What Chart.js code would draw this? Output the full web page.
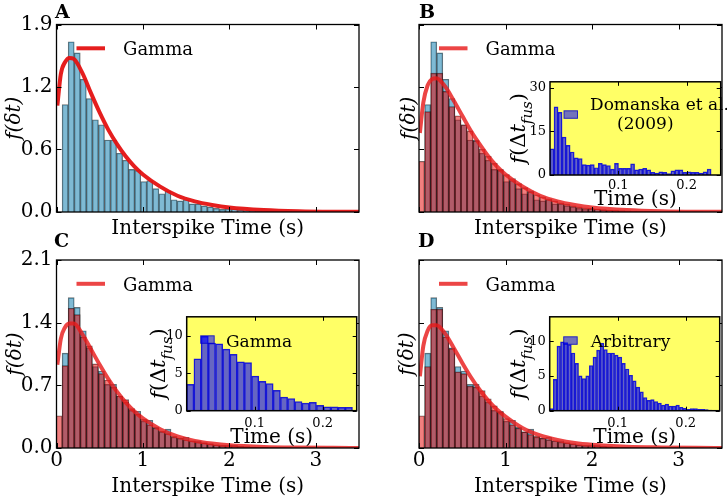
<!DOCTYPE html>
<html>
<head>
<meta charset="utf-8">
<script src="https://cdn.jsdelivr.net/npm/chart.js@4.4.0/dist/chart.umd.min.js"></script>
<style>
  body { margin: 0; background: #fff; }
  #fig { position: relative; width: 727px; height: 500px; overflow: hidden; }
  #fig canvas { position: absolute; }
</style>
</head>
<body>
<div id="fig">
  <canvas id="mainA" width="364" height="250" style="left:0;top:0"></canvas>
  <canvas id="mainB" width="363" height="250" style="left:364px;top:0"></canvas>
  <canvas id="mainC" width="364" height="275" style="left:0;top:225px"></canvas>
  <canvas id="mainD" width="363" height="275" style="left:364px;top:225px"></canvas>
  <canvas id="insetB" width="227" height="145" style="left:500px;top:70px"></canvas>
  <canvas id="insetC" width="234" height="145" style="left:130px;top:305px"></canvas>
  <canvas id="insetD" width="232" height="145" style="left:495px;top:305px"></canvas>
</div>
<script>
/* ---------- data ---------- */
// interspike-time histograms (bin width in s, left edge of first bin)
const binWidth = 0.07;
const expBinStart = 0.065;
const modelBinStart = -0.005;

const expISI = [1.06, 1.68, 1.57, 1.31, 1.12, 0.91, 0.86, 0.71, 0.71, 0.58,
  0.51, 0.42, 0.41, 0.30, 0.31, 0.23, 0.18, 0.21, 0.12, 0.11,
  0.12, 0.08, 0.08, 0.06, 0.05, 0.035, 0.026, 0.033, 0.03, 0.02,
  0.015, 0.01, 0.008, 0.01, 0.006, 0.004, 0.004, 0.006, 0.003, 0.002,
  0.003, 0.002, 0.001, 0.002, 0.001, 0.001, 0, 0.001, 0, 0];

const modelISI_B = [0.50, 0.99, 1.37, 1.37, 1.19, 1.04, 0.95, 0.86, 0.80, 0.70,
  0.62, 0.55, 0.48, 0.42, 0.37, 0.33, 0.28, 0.24, 0.20, 0.17,
  0.15, 0.13, 0.11, 0.09, 0.075, 0.06, 0.05, 0.04, 0.035, 0.03,
  0.025, 0.02, 0.016, 0.013, 0.011, 0.009, 0.008, 0.006, 0.005, 0.004,
  0.004, 0.003, 0.003, 0.002, 0.002, 0.002, 0.001, 0.001, 0.001, 0.001, 0.001];

const modelISI_C = [0.36, 0.92, 1.56, 1.49, 1.24, 1.14, 0.94, 0.83, 0.76, 0.68,
  0.58, 0.54, 0.44, 0.38, 0.32, 0.26, 0.22, 0.19, 0.16, 0.13,
  0.11, 0.09, 0.08, 0.065, 0.055, 0.045, 0.035, 0.03, 0.025, 0.02,
  0.016, 0.013, 0.01, 0.008, 0.007, 0.006, 0.005, 0.004, 0.003, 0.003,
  0.002, 0.002, 0.002, 0.001, 0.001, 0.001, 0.001, 0.001, 0.001, 0.001, 0.001];

const modelISI_D = [0.36, 0.91, 1.55, 1.55, 1.24, 1.11, 0.85, 0.83, 0.69, 0.68,
  0.64, 0.55, 0.47, 0.40, 0.33, 0.26, 0.22, 0.18, 0.15, 0.13,
  0.11, 0.09, 0.08, 0.065, 0.055, 0.045, 0.035, 0.03, 0.025, 0.02,
  0.016, 0.013, 0.01, 0.008, 0.007, 0.006, 0.005, 0.004, 0.003, 0.003,
  0.002, 0.002, 0.002, 0.001, 0.001, 0.001, 0.001, 0.001, 0.001, 0.001, 0.001];

// gamma fit curves
const gammaT = [0.01, 0.05, 0.1, 0.15, 0.2, 0.3, 0.4, 0.5, 0.6, 0.7, 0.8, 0.9, 1.0,
  1.2, 1.4, 1.6, 1.8, 2.0, 2.4, 2.8, 3.2, 3.5];
const gammaA = [1.05, 1.36, 1.48, 1.52, 1.51, 1.37, 1.17, 0.98, 0.81, 0.67, 0.55, 0.45, 0.37,
  0.25, 0.16, 0.105, 0.07, 0.045, 0.02, 0.008, 0.003, 0.002];
const gammaB = [0.78, 1.08, 1.25, 1.31, 1.32, 1.24, 1.10, 0.95, 0.80, 0.67, 0.55, 0.45, 0.37,
  0.25, 0.16, 0.105, 0.07, 0.045, 0.02, 0.008, 0.003, 0.002];
const gammaC = [0.93, 1.22, 1.35, 1.39, 1.39, 1.27, 1.10, 0.93, 0.77, 0.63, 0.51, 0.41, 0.33,
  0.21, 0.13, 0.08, 0.05, 0.03, 0.012, 0.005, 0.002, 0.001];
const gammaD = [0.80, 1.14, 1.31, 1.37, 1.37, 1.28, 1.12, 0.95, 0.79, 0.65, 0.53, 0.43, 0.35,
  0.22, 0.14, 0.09, 0.055, 0.035, 0.014, 0.006, 0.002, 0.001];

// fusion-interval histograms (insets), bins start at 0
const fusBinB = 0.0059;
const fusB = [9.0, 23.4, 21.5, 13.0, 10.2, 7.9, 5.9, 5.6, 3.6, 3.4,
  3.6, 2.5, 4.0, 3.6, 3.2, 2.0, 4.0, 2.3, 2.3, 2.3,
  3.8, 1.8, 2.0, 2.3, 1.8, 0.9, 0.7, 1.1, 0.9, 0.45,
  1.4, 1.8, 1.8, 0.9, 1.1, 0.9, 0.9, 0.7, 1.1, 2.0];
const fusBinC = 0.0106;
const fusC = [3.5, 6.9, 9.9, 9.0, 8.9, 8.2, 7.5, 6.5, 6.4, 4.6,
  3.9, 3.6, 2.7, 1.8, 1.6, 1.2, 1.0, 1.1, 0.7, 0.5, 0.5, 0.45, 0.45];
const fusBinD = 0.0053;
const fusD = [0.3, 4.5, 9.3, 9.9, 9.8, 9.5, 8.3, 6.8, 5.0, 4.6,
  5.0, 6.5, 7.7, 8.7, 9.7, 8.8, 8.3, 8.3, 8.0, 7.7,
  6.8, 6.0, 5.1, 4.3, 3.4, 2.7, 1.9, 1.5, 1.6, 1.3,
  1.1, 0.8, 0.95, 0.67, 0.67, 0.8, 0.5, 0.33, 0.2, 0.3,
  0.3, 0.2, 0.2, 0.15, 0.1];

// ticks
const xTicksMain = [0, 1, 2, 3];
const xTickLabelsMain = ['0', '1', '2', '3'];
const yTicksAB = [0, 0.617, 1.233, 1.85];
const yTickLabelsAB = ['0.0', '0.6', '1.2', '1.9'];
const yTicksCD = [0, 0.7, 1.4, 2.1];
const yTickLabelsCD = ['0.0', '0.7', '1.4', '2.1'];
const insetXTicks = [0.1, 0.2];
const insetXTickLabels = ['0.1', '0.2'];
const insetYTicksB = [0, 15, 30];
const insetYTicksCD = [0, 5, 10];

/* ---------- helpers ---------- */
const SERIF = "'DejaVu Serif', serif";

function binPoints(start, width, values) {
  return values.map((v, i) => ({ x: start + width * (i + 0.5), y: v }));
}
function curvePoints(ts, ys) {
  return ts.map((t, i) => ({ x: t, y: ys[i] }));
}

// frame, inward ticks, legend, panel letter, inset y label
function makeDeco(o) {
  return {
    id: 'deco',
    beforeDatasetsDraw(chart) {
      if (!o.bg) return;
      const a = chart.chartArea, ctx = chart.ctx;
      ctx.save();
      ctx.fillStyle = o.bg;
      ctx.fillRect(a.left, a.top, a.right - a.left, a.bottom - a.top);
      ctx.restore();
    },
    afterDatasetsDraw(chart) {
      const ctx = chart.ctx, a = chart.chartArea;
      const xs = chart.scales.x, ys = chart.scales.y;
      const len = o.tickLen;
      ctx.save();
      ctx.strokeStyle = '#000';
      ctx.lineWidth = 1;
      ctx.beginPath();
      xs.ticks.forEach(t => {
        const p = Math.round(xs.getPixelForValue(t.value)) + 0.5;
        ctx.moveTo(p, a.bottom); ctx.lineTo(p, a.bottom - len);
        ctx.moveTo(p, a.top); ctx.lineTo(p, a.top + len);
      });
      ys.ticks.forEach(t => {
        const p = Math.round(ys.getPixelForValue(t.value)) + 0.5;
        ctx.moveTo(a.left, p); ctx.lineTo(a.left + len, p);
        ctx.moveTo(a.right, p); ctx.lineTo(a.right - len, p);
      });
      ctx.stroke();
      ctx.lineWidth = o.frame;
      ctx.strokeRect(a.left, a.top, a.right - a.left, a.bottom - a.top);

      const lg = o.legend;
      if (lg) {
        if (lg.kind === 'line') {
          ctx.strokeStyle = lg.color;
          ctx.lineWidth = lg.width;
          ctx.beginPath();
          ctx.moveTo(a.left + lg.x1, a.top + lg.y);
          ctx.lineTo(a.left + lg.x2, a.top + lg.y);
          ctx.stroke();
        } else {
          ctx.fillStyle = lg.fill;
          ctx.strokeStyle = lg.edge;
          ctx.lineWidth = 1;
          ctx.fillRect(a.left + lg.x1, a.top + lg.y1, lg.x2 - lg.x1, lg.y2 - lg.y1);
          ctx.strokeRect(a.left + lg.x1, a.top + lg.y1, lg.x2 - lg.x1, lg.y2 - lg.y1);
        }
        ctx.fillStyle = '#000';
        ctx.font = lg.font;
        ctx.textAlign = 'left';
        ctx.textBaseline = 'alphabetic';
        lg.lines.forEach(l => ctx.fillText(l.text, a.left + l.x, a.top + l.y));
      }
      if (o.panel) {
        ctx.fillStyle = '#000';
        ctx.font = 'bold 19px ' + SERIF;
        ctx.textAlign = 'left';
        ctx.textBaseline = 'alphabetic';
        ctx.fillText(o.panel.text, o.panel.x, o.panel.y);
      }
      if (o.yLabel) {
        // f(Δt_fus), rotated, with subscript
        const big = o.yLabel.size, small = Math.round(big * 0.7);
        const parts = [
          { t: 'f', f: 'italic ' + big + 'px ' + SERIF, dy: 0 },
          { t: '(', f: big + 'px ' + SERIF, dy: 0 },
          { t: 'Δ', f: big + 'px ' + SERIF, dy: 0 },
          { t: 't', f: 'italic ' + big + 'px ' + SERIF, dy: 0 },
          { t: 'fus', f: 'italic ' + small + 'px ' + SERIF, dy: big * 0.3 },
          { t: ')', f: big + 'px ' + SERIF, dy: 0 }
        ];
        let total = 0;
        parts.forEach(p => { ctx.font = p.f; p.w = ctx.measureText(p.t).width; total += p.w; });
        ctx.translate(o.yLabel.x, (a.top + a.bottom) / 2);
        ctx.rotate(-Math.PI / 2);
        ctx.fillStyle = '#000';
        ctx.textAlign = 'left';
        ctx.textBaseline = 'alphabetic';
        let cx = -total / 2;
        parts.forEach(p => {
          ctx.font = p.f;
          ctx.fillText(p.t, cx, big * 0.35 + p.dy);
          cx += p.w;
        });
      }
      ctx.restore();
    }
  };
}

const baseOptions = {
  responsive: false,
  animation: false,
  devicePixelRatio: 1,
  events: []
};

/* ---------- main panels ---------- */
function mainPanel(id, cfg) {
  const datasets = [{
    type: 'bar',
    data: binPoints(expBinStart, binWidth, expISI),
    xAxisID: 'x',
    backgroundColor: 'rgba(0, 118, 170, 0.5)',
    borderColor: 'rgba(0, 0, 0, 0.55)',
    borderWidth: 0.7,
    barPercentage: 1,
    categoryPercentage: 1,
    grouped: false,
    order: 3
  }];
  if (cfg.model) {
    datasets.push({
      type: 'bar',
      data: binPoints(modelBinStart, binWidth, cfg.model),
      xAxisID: 'x2',
      backgroundColor: 'rgba(228, 0, 0, 0.5)',
      borderColor: 'rgba(0, 0, 0, 0.55)',
      borderWidth: 0.7,
      barPercentage: 1,
      categoryPercentage: 1,
      grouped: false,
      order: 2
    });
  }
  datasets.push({
    type: 'line',
    data: curvePoints(gammaT, cfg.gamma),
    xAxisID: 'x',
    borderColor: cfg.lineColor,
    borderWidth: 4,
    pointRadius: 0,
    cubicInterpolationMode: 'monotone',
    order: 1
  });

  new Chart(document.getElementById(id), {
    type: 'bar',
    data: { datasets },
    options: {
      ...baseOptions,
      layout: { padding: { left: 0, top: cfg.padTop, right: cfg.padRight, bottom: 0 } },
      plugins: { legend: { display: false }, tooltip: { enabled: false } },
      scales: {
        x: {
          type: 'linear', position: 'bottom', min: 0, max: 3.5, offset: false,
          grid: { display: false, drawTicks: false }, border: { display: false },
          afterBuildTicks: s => { s.ticks = xTicksMain.map(v => ({ value: v })); },
          ticks: {
            display: cfg.showX, color: '#000', padding: 1, maxRotation: 0, autoSkip: false,
            font: { family: SERIF, size: 20 },
            callback: (v, i) => xTickLabelsMain[i]
          },
          title: {
            display: true, text: 'Interspike Time (s)', color: '#000',
            font: { family: SERIF, size: 20 }, padding: { top: 0, bottom: cfg.xTitlePad }
          },
          afterFit: s => { s.height = cfg.xAxisH; }
        },
        x2: {
          type: 'linear', axis: 'x', position: 'bottom', display: false,
          min: 0, max: 3.5, offset: false
        },
        y: {
          type: 'linear', min: 0, max: cfg.yTicks[cfg.yTicks.length - 1],
          grid: { display: false, drawTicks: false }, border: { display: false },
          afterBuildTicks: s => { s.ticks = cfg.yTicks.map(v => ({ value: v })); },
          ticks: {
            display: cfg.showY, color: '#000', padding: 4, autoSkip: false,
            font: { family: SERIF, size: 20 },
            callback: (v, i) => cfg.yLabels[i]
          },
          title: {
            display: true, text: 'f(δt)', color: '#000',
            font: { family: SERIF, size: 20, style: 'italic' }, padding: { top: cfg.yTitlePad, bottom: 0 }
          },
          afterFit: s => { s.width = cfg.yAxisW; }
        }
      }
    },
    plugins: [makeDeco({
      tickLen: 5, frame: 1.3,
      legend: {
        kind: 'line', color: cfg.lineColor, width: 4, x1: 20, x2: 48.5, y: 23.8,
        font: '18px ' + SERIF, lines: [{ text: 'Gamma', x: 66.5, y: 30.5 }]
      },
      panel: cfg.panel
    })]
  });
}

mainPanel('mainA', {
  gamma: gammaA, lineColor: 'rgba(228, 18, 18, 0.95)',
  yTicks: yTicksAB, yLabels: yTickLabelsAB,
  showX: false, showY: true, padTop: 24.5, padRight: 5,
  xAxisH: 38, xTitlePad: 9, yAxisW: 56.5, yTitlePad: 3,
  panel: { text: 'A', x: 55, y: 18 }
});
mainPanel('mainB', {
  gamma: gammaB, model: modelISI_B, lineColor: 'rgba(232, 28, 28, 0.82)',
  yTicks: yTicksAB, yLabels: yTickLabelsAB,
  showX: false, showY: false, padTop: 24.5, padRight: 5,
  xAxisH: 38, xTitlePad: 9, yAxisW: 55, yTitlePad: 34,
  panel: { text: 'B', x: 55, y: 18 }
});
mainPanel('mainC', {
  gamma: gammaC, model: modelISI_C, lineColor: 'rgba(232, 28, 28, 0.82)',
  yTicks: yTicksCD, yLabels: yTickLabelsCD,
  showX: true, showY: true, padTop: 35, padRight: 5,
  xAxisH: 52, xTitlePad: 1.2, yAxisW: 56.5, yTitlePad: 4,
  panel: { text: 'C', x: 54, y: 22 }
});
mainPanel('mainD', {
  gamma: gammaD, model: modelISI_D, lineColor: 'rgba(232, 28, 28, 0.82)',
  yTicks: yTicksCD, yLabels: yTickLabelsCD,
  showX: true, showY: false, padTop: 35, padRight: 5,
  xAxisH: 52, xTitlePad: 1.2, yAxisW: 55, yTitlePad: 32,
  panel: { text: 'D', x: 54, y: 22 }
});

/* ---------- insets ---------- */
function insetPanel(id, cfg) {
  new Chart(document.getElementById(id), {
    type: 'bar',
    data: {
      datasets: [{
        data: binPoints(0, cfg.bin, cfg.values),
        backgroundColor: 'rgba(0, 0, 255, 0.6)',
        borderColor: 'rgba(0, 0, 210, 0.85)',
        borderWidth: 0.8,
        barPercentage: 1,
        categoryPercentage: 1
      }]
    },
    options: {
      ...baseOptions,
      layout: { padding: { left: 0, top: cfg.padTop, right: cfg.padRight, bottom: 0 } },
      plugins: { legend: { display: false }, tooltip: { enabled: false } },
      scales: {
        x: {
          type: 'linear', min: 0, max: 0.25, offset: false,
          grid: { display: false, drawTicks: false }, border: { display: false },
          afterBuildTicks: s => { s.ticks = insetXTicks.map(v => ({ value: v })); },
          ticks: {
            color: '#000', padding: cfg.xTickPad, maxRotation: 0, autoSkip: false,
            font: { family: SERIF, size: 13 },
            callback: (v, i) => insetXTickLabels[i]
          },
          title: {
            display: true, text: 'Time (s)', color: '#000',
            font: { family: SERIF, size: 20 }, padding: { top: 0, bottom: cfg.xTitlePad }
          },
          afterFit: s => { s.height = cfg.xAxisH; }
        },
        y: {
          type: 'linear', min: 0, max: cfg.yMax,
          grid: { display: false, drawTicks: false }, border: { display: false },
          afterBuildTicks: s => { s.ticks = cfg.yTicks.map(v => ({ value: v })); },
          ticks: {
            color: '#000', padding: 4, autoSkip: false,
            font: { family: SERIF, size: 13 },
            callback: (v, i) => String(cfg.yTicks[i])
          },
          afterFit: s => { s.width = cfg.yAxisW; }
        }
      }
    },
    plugins: [makeDeco({
      bg: '#ffff66', tickLen: 4, frame: 1.5,
      legend: {
        kind: 'patch', fill: 'rgba(0, 0, 255, 0.55)', edge: 'rgba(0, 0, 200, 0.8)',
        x1: 14, x2: 27.5, y1: cfg.patchY, y2: cfg.patchY + 7.5,
        font: '17px ' + SERIF, lines: cfg.legendLines
      },
      yLabel: { x: cfg.yLabelX, size: 21 }
    })]
  });
}

insetPanel('insetB', {
  bin: fusBinB, values: fusB, yMax: 32, yTicks: insetYTicksB,
  padTop: 11, padRight: 6.3, xAxisH: 40, xTickPad: 3, xTitlePad: 3, yAxisW: 50,
  patchY: 29, yLabelX: 18,
  legendLines: [{ text: 'Domanska et al.', x: 40, y: 28.3 }, { text: '(2009)', x: 67, y: 46.7 }]
});
insetPanel('insetC', {
  bin: fusBinC, values: fusC, yMax: 12.5, yTicks: insetYTicksCD,
  padTop: 10, padRight: 7.3, xAxisH: 39.3, xTickPad: 5, xTitlePad: 0.5, yAxisW: 56.7,
  patchY: 19, yLabelX: 28,
  legendLines: [{ text: 'Gamma', x: 39.3, y: 30 }]
});
insetPanel('insetD', {
  bin: fusBinD, values: fusD, yMax: 13.5, yTicks: insetYTicksCD,
  padTop: 10, padRight: 7.3, xAxisH: 39.3, xTickPad: 5, xTitlePad: 0.5, yAxisW: 54.7,
  patchY: 20, yLabelX: 23,
  legendLines: [{ text: 'Arbitrary', x: 41, y: 30 }]
});
</script>
</body>
</html>
